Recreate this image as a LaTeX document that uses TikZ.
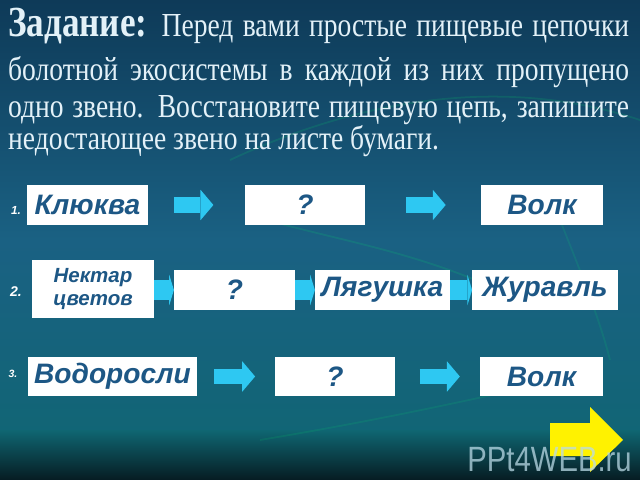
\documentclass[tikz,border=0pt]{standalone}
\usepackage{fontspec}
\setmainfont{Liberation Serif}
\newfontfamily\boxfont{Liberation Sans}
\usetikzlibrary{arrows.meta}

\definecolor{bgtop}{HTML}{0E3A58}
\definecolor{bgmid}{HTML}{1A6183}
\definecolor{bglow}{HTML}{0F6672}
\definecolor{bgdark}{HTML}{061C22}
\definecolor{skyarrow}{HTML}{2EC8F2}
\definecolor{boxtext}{HTML}{1D5785}
\definecolor{titletext}{HTML}{E3F1F8}

\newcommand{\tallline}[1]{\scalebox{1}[1.22]{#1}}

\tikzset{
  linkbox/.style={fill=white, minimum height=34pt, inner sep=1pt,
    font=\boxfont\bfseries\itshape\fontsize{24}{26}\selectfont, text=boxtext},
  blockarrow/.style={draw=skyarrow, line width=13pt,
    -{Triangle[length=11pt,width=26pt,line width=0pt]}},
  shortarrow/.style={draw=skyarrow, line width=17pt,
    -{Triangle[length=4pt,width=26pt,line width=0pt]}},
  numlabel/.style={text=white, font=\boxfont\bfseries\itshape},
  titleline/.style={anchor=base west, inner sep=0pt, text=titletext,
    font=\fontsize{23.5}{26}\selectfont},
}

\begin{document}
\begin{tikzpicture}[x=0.03cm, y=-0.03cm]
	\useasboundingbox (0,0) rectangle (640,480);
	% background
	\shade[top color=bgtop, bottom color=bglow, middle color=bgmid] (0,0) rectangle (640,480);
	\shade[top color=bglow, bottom color=bgdark] (0,430) rectangle (640,480);
	\draw[green!60!cyan, opacity=0.12, line width=1.5pt] (230,160) .. controls (380,90) and (520,80) .. (640,120);
	\draw[green!60!cyan, opacity=0.12, line width=1.5pt] (250,215) .. controls (330,240) and (420,250) .. (520,300);
	\draw[green!60!cyan, opacity=0.10, line width=1.5pt] (560,220) .. controls (580,270) and (600,320) .. (610,360);
	\draw[green!60!cyan, opacity=0.10, line width=1.5pt] (260,440) .. controls (380,420) and (470,400) .. (560,380);

	% task text
	\node[titleline] (line1) at (8,37) {\tallline{\makebox[530pt][s]{{\fontsize{30}{32}\selectfont\bfseries Задание:} Перед вами простые пищевые цепочки}}};
	\node[titleline] (line2) at (8,81) {\tallline{\makebox[530pt][s]{болотной экосистемы в каждой из них пропущено}}};
	\node[titleline] (line3) at (8,118) {\tallline{\makebox[530pt][s]{одно звено. Восстановите пищевую цепь, запишите}}};
	\node[titleline] (line4) at (8,150) {\tallline{недостающее звено на листе бумаги.}};

	% chain 1
	\node[numlabel, font=\boxfont\bfseries\itshape\fontsize{10}{12}\selectfont] (n1) at (16,210) {1.};
	\node[linkbox, minimum width=103pt] (klukva) at (87.5,205) {Клюква};
	\node[linkbox, minimum width=102pt] (qone) at (305,205) {?};
	\node[linkbox, minimum width=104pt] (volkone) at (542,205) {Волк};
	\draw[blockarrow, shorten <=22pt, shorten >=27pt] (klukva.east) -- (qone.west);
	\draw[blockarrow, shorten <=35pt, shorten >=30pt] (qone.east) -- (volkone.west);

	% chain 2
	\node[numlabel, font=\boxfont\bfseries\itshape\fontsize{12}{14}\selectfont] (n2) at (16,292) {2.};
	\node[linkbox, minimum width=104pt, minimum height=49pt, align=center,
	  font=\boxfont\bfseries\itshape\fontsize{17.5}{20}\selectfont] (nektar) at (93,289) {Нектар\\цветов};
	\node[linkbox, minimum width=103pt] (qtwo) at (234.5,290) {?};
	\node[linkbox, minimum width=115pt] (frog) at (382.5,290) {Лягушка};
	\node[linkbox, minimum width=124pt] (crane) at (545,290) {Журавль};
	\draw[shortarrow] (nektar.east |- qtwo) -- (qtwo.west);
	\draw[shortarrow] (qtwo.east) -- (frog.west);
	\draw[shortarrow] (frog.east) -- (crane.west);

	% chain 3
	\node[numlabel, font=\boxfont\bfseries\itshape\fontsize{9}{11}\selectfont] (n3) at (13,374) {3.};
	\node[linkbox, minimum width=145pt] (algae) at (112.5,376.5) {Водоросли};
	\node[linkbox, minimum width=102pt] (qthree) at (335,376.5) {?};
	\node[linkbox, minimum width=105pt] (volkthree) at (541.5,376.5) {Волк};
	\draw[blockarrow, shorten <=14pt, shorten >=17pt] (algae.east) -- (qthree.west);
	\draw[blockarrow, shorten <=21pt, shorten >=17pt] (qthree.east) -- (volkthree.west);

	% next slide arrow
	\fill[yellow] (550,423) -- (590,423) -- (590,407) -- (623,440) -- (590,472) -- (590,456) -- (550,456) -- cycle;
	\node[text=gray!50!cyan!40, opacity=0.75, font=\boxfont\fontsize{25}{27}\selectfont, anchor=base east, inner sep=0pt] (mark) at (632,471) {\scalebox{1}[1.2]{PPt4WEB.ru}};
\end{tikzpicture}
\end{document}
